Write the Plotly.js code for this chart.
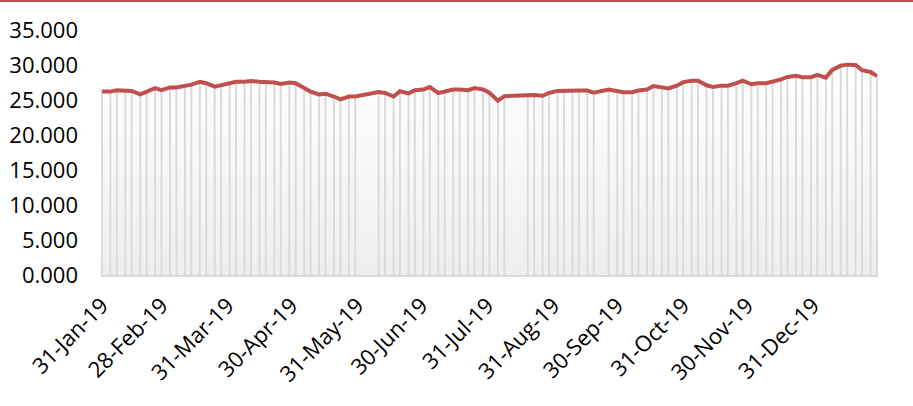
<!DOCTYPE html>
<html>
<head>
<meta charset="utf-8">
<script src="https://cdn.plot.ly/plotly-3.0.1.min.js"></script>
<style>
  html, body { margin: 0; padding: 0; background: #ffffff; }
  #wrap { position: relative; width: 913px; height: 406px; }
  #chart { width: 913px; height: 406px; }
  #topbar { position: absolute; left: 0; top: 0; width: 913px; height: 2px; background: #c0504d; z-index: 10; }
</style>
</head>
<body>
<div id="wrap">
  <div id="topbar"></div>
  <div id="chart"></div>
</div>
<script>
// Observation dates (Mondays and Thursdays, with holiday gaps)
const dates = [
  '2019-01-31','2019-02-04','2019-02-07','2019-02-11','2019-02-14','2019-02-18','2019-02-21','2019-02-25','2019-02-28',
  '2019-03-04','2019-03-07','2019-03-11','2019-03-14','2019-03-18','2019-03-21','2019-03-25','2019-03-28',
  '2019-04-01','2019-04-04','2019-04-08','2019-04-11','2019-04-15','2019-04-18','2019-04-22','2019-04-25','2019-04-29',
  '2019-05-02','2019-05-06','2019-05-09','2019-05-13','2019-05-16','2019-05-20','2019-05-23','2019-05-27','2019-05-30',
  '2019-06-10','2019-06-13','2019-06-17','2019-06-20','2019-06-24','2019-06-27',
  '2019-07-01','2019-07-04','2019-07-08','2019-07-11','2019-07-15','2019-07-18','2019-07-22','2019-07-25','2019-07-29',
  '2019-08-01','2019-08-05','2019-08-08',
  '2019-08-19','2019-08-22','2019-08-26','2019-08-29',
  '2019-09-02','2019-09-05','2019-09-09','2019-09-12','2019-09-16','2019-09-19','2019-09-26','2019-09-30',
  '2019-10-03','2019-10-07','2019-10-10','2019-10-14','2019-10-17','2019-10-21','2019-10-24','2019-10-28','2019-10-31',
  '2019-11-04','2019-11-07','2019-11-11','2019-11-14','2019-11-18','2019-11-21','2019-11-25','2019-11-28',
  '2019-12-02','2019-12-05','2019-12-09','2019-12-12','2019-12-16','2019-12-19','2019-12-23','2019-12-26','2019-12-30',
  '2020-01-02','2020-01-06','2020-01-09','2020-01-13','2020-01-16','2020-01-20','2020-01-23','2020-01-27','2020-01-30'
];

const values = [
  26.2, 26.2, 26.4, 26.3, 26.3, 25.8, 26.2, 26.7, 26.4,
  26.8, 26.8, 27.0, 27.2, 27.6, 27.4, 26.9, 27.1,
  27.4, 27.6, 27.6, 27.7, 27.6, 27.6, 27.5, 27.3, 27.5,
  27.4, 26.8, 26.2, 25.8, 25.9, 25.5, 25.1, 25.5, 25.5,
  26.15, 26.0, 25.5, 26.25, 25.95, 26.4,
  26.5, 26.85, 26.0, 26.25, 26.5, 26.5, 26.4, 26.7, 26.5,
  26.05, 24.9, 25.55,
  25.7, 25.7, 25.6, 26.0,
  26.3, 26.35, 26.35, 26.35, 26.35, 26.05, 26.5, 26.2,
  26.1, 26.1, 26.35, 26.5, 27.0, 26.8, 26.65, 27.05, 27.55,
  27.75, 27.75, 27.1, 26.85, 27.05, 27.05, 27.4, 27.75,
  27.25, 27.4, 27.4, 27.6, 27.95, 28.3, 28.45, 28.25, 28.25,
  28.6, 28.2, 29.3, 29.9, 30.05, 30.0, 29.25, 29.0, 28.4
];

const tickDates = ['2019-01-31','2019-02-28','2019-03-31','2019-04-30','2019-05-31','2019-06-30',
                   '2019-07-31','2019-08-31','2019-09-30','2019-10-31','2019-11-30','2019-12-31'];
const tickLabels = ['31-Jan-19','28-Feb-19','31-Mar-19','30-Apr-19','31-May-19','30-Jun-19',
                    '31-Jul-19','31-Aug-19','30-Sep-19','31-Oct-19','30-Nov-19','31-Dec-19'];

const yTicks = [0, 5, 10, 15, 20, 25, 30, 35];

const DAY = 86400000;
const FONT = '"Open Sans", "Liberation Sans", Arial, sans-serif';
const XRANGE = ['2019-01-30 14:00', '2020-01-30 12:00'];
const YRANGE = [0, 35];

const traces = [
  // gradient fill under the series (bottom layer)
  {
    type: 'scatter', mode: 'lines', x: dates, y: values,
    xaxis: 'x', yaxis: 'y',
    fill: 'tozeroy',
    fillgradient: { type: 'vertical', colorscale: [[0, '#eeeeee'], [1, '#ffffff']] },
    line: { width: 0, color: 'rgba(0,0,0,0)' },
    hoverinfo: 'skip', showlegend: false
  },
  // thin columns (overlaid subplot, drawn above the fill)
  {
    type: 'bar', x: dates, y: values,
    xaxis: 'x2', yaxis: 'y2',
    width: 0.9 * DAY,
    marker: { color: '#dadada', line: { width: 0 } },
    hoverinfo: 'skip', showlegend: false
  },
  // red line
  {
    type: 'scatter', mode: 'lines', x: dates, y: values,
    xaxis: 'x2', yaxis: 'y2',
    line: { color: '#c0504d', width: 4 },
    showlegend: false
  }
];

const layout = {
  width: 913, height: 406,
  margin: { l: 101, r: 35, t: 30, b: 131 },
  paper_bgcolor: '#ffffff', plot_bgcolor: '#ffffff',
  showlegend: false,
  font: { family: FONT, size: 22, color: '#000000' },
  xaxis: {
    type: 'date',
    range: XRANGE,
    tickmode: 'array', tickvals: tickDates, ticktext: tickLabels,
    tickangle: -45,
    tickfont: { family: FONT, size: 22, color: '#000000' },
    showgrid: false, zeroline: false,
    showline: true, linecolor: '#d9d9d9', linewidth: 2,
    ticks: '', ticklabelstandoff: 7
  },
  yaxis: {
    range: YRANGE,
    tickmode: 'array', tickvals: yTicks,
    tickformat: '.3f',
    tickfont: { family: FONT, size: 22, color: '#000000' },
    showgrid: false, zeroline: false, showline: false,
    ticks: '', ticklabelstandoff: 22
  },
  xaxis2: {
    type: 'date', range: XRANGE, overlaying: 'x', anchor: 'y2',
    visible: false, showgrid: false, zeroline: false
  },
  yaxis2: {
    range: YRANGE, overlaying: 'y', anchor: 'x2',
    visible: false, showgrid: false, zeroline: false
  }
};

Plotly.newPlot('chart', traces, layout, { displayModeBar: false, staticPlot: true });
</script>
</body>
</html>
